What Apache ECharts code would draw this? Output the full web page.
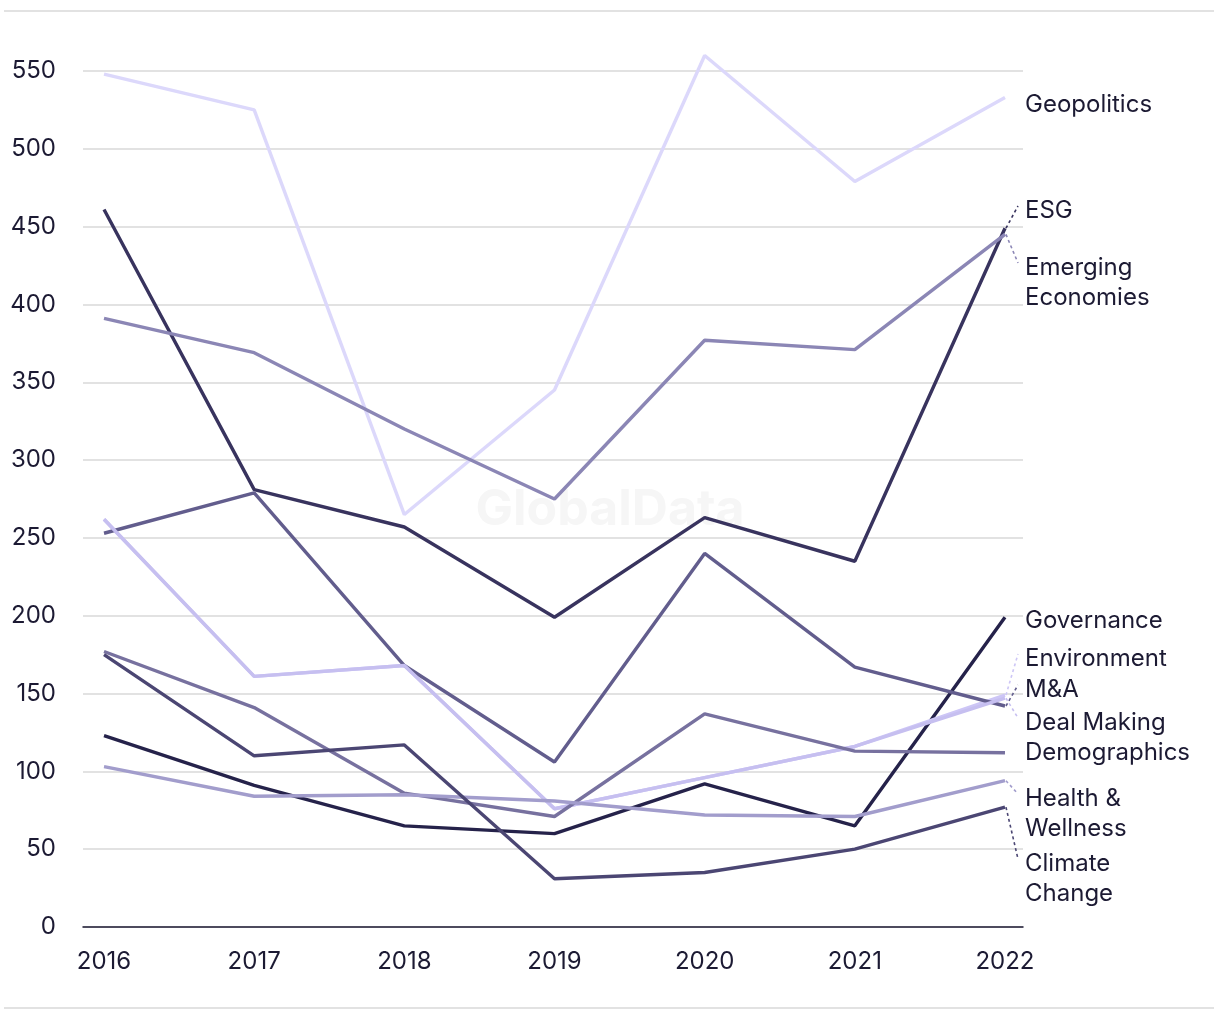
<!DOCTYPE html>
<html>
<head>
<meta charset="utf-8">
<script src="https://cdn.jsdelivr.net/npm/echarts@6/dist/echarts.min.js"></script>
<style>
html,body{margin:0;padding:0;background:#fff;}
#chart{width:1220px;height:1020px;}
</style>
</head>
<body>
<div id="chart"></div>
<script>
// ---- data ----
const years = [2016, 2017, 2018, 2019, 2020, 2021, 2022];
const yTicks = [0, 50, 100, 150, 200, 250, 300, 350, 400, 450, 500, 550];
const seriesNames = ['Geopolitics', 'ESG', 'Emerging Economies', 'Governance', 'Environment', 'M&A', 'Deal Making', 'Demographics', 'Health & Wellness', 'Climate Change'];
const geopolitics       = [548, 525, 265, 345, 560, 479, 533];
const esg               = [461, 281, 257, 199, 263, 235, 449];
const emergingEconomies = [391, 369, 320, 275, 377, 371, 445];
const governance        = [123, 91, 65, 60, 92, 65, 199];
const environment       = [262, 161, 168, 76, 96, 116, 149];
const mAndA             = [253, 279, 168, 106, 240, 167, 142];
const dealMaking        = [262, 161, 168, 76, 96, 116, 147];
const demographics      = [177, 141, 86, 71, 137, 113, 112];
const healthWellness    = [103, 84, 85, 81, 72, 71, 94];
const climateChange     = [175, 110, 117, 31, 35, 50, 77];

// ---- styling / layout ----
const values = [geopolitics, esg, emergingEconomies, governance, environment, mAndA, dealMaking, demographics, healthWellness, climateChange];
const colors = ['#dcd8fb', '#38335e', '#8b86b5', '#25224a', '#cdc6f6', '#625d8d', '#c6bff0', '#77719f', '#a29dcc', '#4b4673'];
const labelText = ['Geopolitics', 'ESG', 'Emerging\nEconomies', 'Governance', 'Environment', 'M&A', 'Deal Making', 'Demographics', 'Health &\nWellness', 'Climate\nChange'];
const labelTop = [105, 211, 268, 621, 659, 690, 723, 753, 799, 864]; // pixel y (centre) of first label line
const lineH = 30;
const FONT = 'Inter, "Noto Sans", sans-serif';
const TEXT = '#1c1a33';

const chart = echarts.init(document.getElementById('chart'), null, {renderer: 'canvas'});

const series = seriesNames.map((name, i) => ({
  name: name,
  type: 'line',
  data: years.map((y, j) => [y, values[i][j]]),
  symbol: 'none',
  clip: false,
  lineStyle: {color: colors[i], width: 3.4},
  itemStyle: {color: colors[i]},
  emphasis: {disabled: true},
  z: 2
}));

chart.setOption({
  animation: false,
  backgroundColor: '#ffffff',
  grid: {left: 83, right: 197, top: 71, bottom: 93},
  xAxis: {
    type: 'value',
    min: 2015.86,
    max: 2022.12,
    splitLine: {show: false},
    axisTick: {show: false},
    axisLine: {show: true, lineStyle: {color: '#1c1a33', width: 1.5}},
    axisLabel: {
      show: true, margin: 23, fontSize: 24, color: TEXT, fontFamily: FONT,
      showMinLabel: false, showMaxLabel: false,
      formatter: v => years.indexOf(Math.round(v * 1000) / 1000) >= 0 ? String(v) : ''
    }
  },
  yAxis: {
    type: 'value',
    min: 0,
    max: 550,
    interval: 50,
    axisLine: {show: false},
    axisTick: {show: false},
    splitLine: {show: true, lineStyle: {color: '#d9d9d9', width: 1.5}},
    axisLabel: {
      margin: 27, fontSize: 24, color: TEXT, fontFamily: FONT, padding: [4, 0, 0, 0],
      formatter: v => yTicks.indexOf(v) >= 0 ? String(v) : ''
    }
  },
  series: series
});

// end labels with dotted leader lines, positioned from the library's own scale
const graphics = [
  {type: 'line', shape: {x1: 4, y1: 11, x2: 1214, y2: 11}, style: {stroke: '#d9d9d9', lineWidth: 1.5}, silent: true},
  {type: 'line', shape: {x1: 4, y1: 1008, x2: 1214, y2: 1008}, style: {stroke: '#d9d9d9', lineWidth: 1.5}, silent: true},
  {type: 'text', x: 610, y: 510, z: 0, style: {text: 'GlobalData', fill: '#f6f6f6', font: 'bold 50px ' + FONT, textAlign: 'center', textVerticalAlign: 'middle'}, silent: true}
];
seriesNames.forEach((name, i) => {
  const last = years.length - 1;
  const p = chart.convertToPixel({xAxisIndex: 0, yAxisIndex: 0}, [years[last], values[i][last]]);
  const ty = labelTop[i];
  const tgtY = ty - 5;
  if (Math.abs(tgtY - p[1]) > 6) {
    graphics.push({
      type: 'line',
      shape: {x1: p[0] + 1, y1: p[1], x2: 1018, y2: tgtY},
      style: {stroke: colors[i], lineWidth: 1.6, lineDash: [3, 3]},
      silent: true
    });
  }
  graphics.push({
    type: 'text', x: 1025, y: ty - lineH / 2, z: 5,
    style: {text: labelText[i], fill: TEXT, font: '24px ' + FONT, textAlign: 'left', verticalAlign: 'top', textVerticalAlign: 'top', lineHeight: lineH},
    silent: true
  });
});
chart.setOption({graphic: graphics});
</script>
</body>
</html>
